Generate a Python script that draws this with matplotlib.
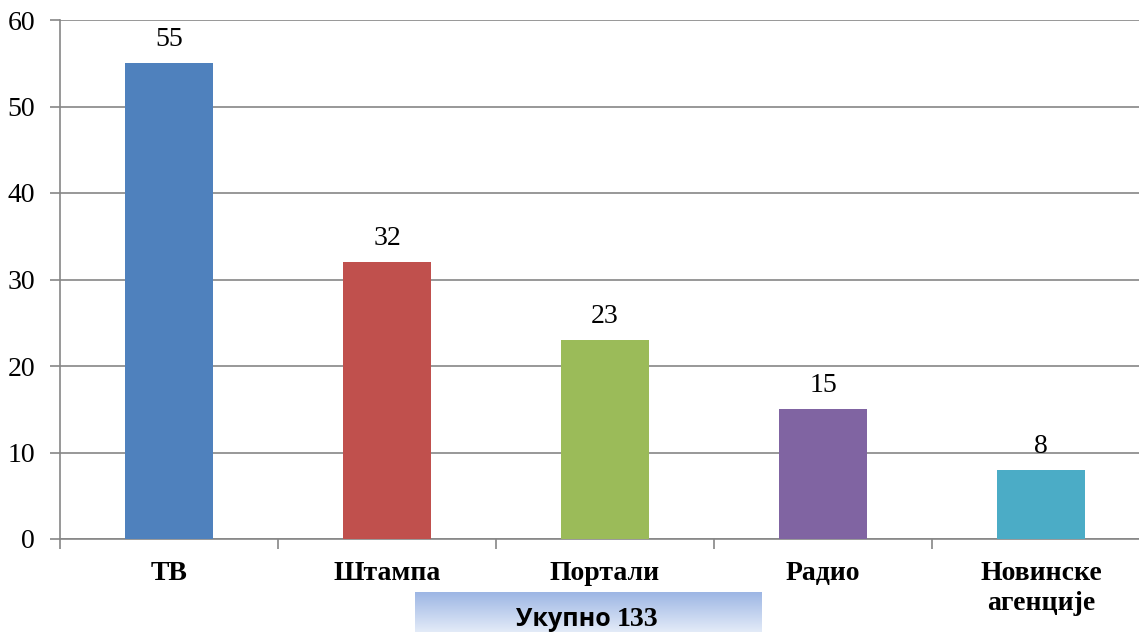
import numpy as np
import matplotlib
matplotlib.use("Agg")
import matplotlib.pyplot as plt

categories = ["ТВ", "Штампа", "Портали", "Радио", "Новинске\nагенције"]
values = [55, 32, 23, 15, 8]
bar_colors = ["#4F81BD", "#C0504D", "#9BBB59", "#8064A2", "#4BACC6"]
total_word = "Укупно"
total_value = "133"

plt.rcParams['font.family'] = ['Liberation Serif', 'DejaVu Serif']

fig = plt.figure(figsize=(11.39, 6.32), dpi=100)
ax = fig.add_axes([60 / 1139, 93 / 632, 1090 / 1139, 519 / 632])

x = np.arange(len(categories))
ax.bar(x, values, width=0.40, color=bar_colors, zorder=3)

for xi, v in zip(x, values):
    ax.annotate(str(v), (xi, v), xytext=(0, 17), textcoords="offset points",
                ha="center", va="center", fontsize=20)

ax.set_xlim(-0.5, len(categories) - 0.5)
ax.set_ylim(0, 60)
ax.set_yticks(range(0, 61, 10))
ax.set_xticks(x)
ax.set_xticklabels(categories, fontsize=20, fontweight="bold", linespacing=1.25)
ax.set_xticks(np.arange(-0.5, len(categories)), minor=True)
ax.tick_params(axis="x", which="major", length=0, pad=16)
ax.tick_params(axis="x", which="minor", length=7, color="#868686", width=1.2)
ax.tick_params(axis="y", length=7, color="#868686", width=1.2, labelsize=20, pad=11)

ax.grid(axis="y", color="#868686", linewidth=1.2, zorder=0)
for side in ["top", "right"]:
    ax.spines[side].set_visible(False)
for side in ["left", "bottom"]:
    ax.spines[side].set_color("#868686")
    ax.spines[side].set_linewidth(1.2)

# gradient box with total
box = fig.add_axes([415 / 1139, 0, 347 / 1139, 40 / 632])
grad = np.linspace(0, 1, 100).reshape(-1, 1)
cmap = matplotlib.colors.LinearSegmentedColormap.from_list("g", ["#9DB6E4", "#E3EBF8"])
box.imshow(grad, aspect="auto", cmap=cmap, extent=[0, 1, 0, 1], origin="upper")
box.set_axis_off()
t1 = box.text(0.29, 0.30, total_word + " ", ha="left", va="center", fontsize=18,
              fontweight="bold", family=["Open Sans", "DejaVu Sans"])
box.annotate(total_value, xy=(1, 0.5), xycoords=t1, ha="left", va="center",
             fontsize=20, fontweight="bold")

fig.savefig("out.png", dpi=100)
